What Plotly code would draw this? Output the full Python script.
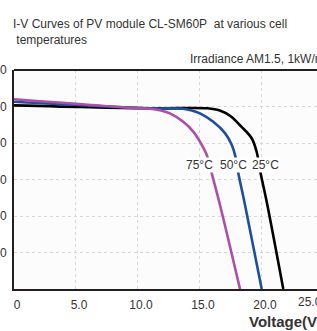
import plotly.graph_objects as go

# ---- data ----
v_25 = [0, 10.97, 15.6, 16.6, 17.45, 18.3, 19.17, 19.57, 19.88, 20.43, 21.72]
i_25 = [5.03, 4.95, 4.95, 4.89, 4.74, 4.46, 4.13, 3.76, 3.19, 2.31, 0]

v_50 = [0, 10.97, 13.63, 14.35, 15.0, 16.07, 17.02, 17.56, 17.82, 18.09, 18.63, 19.98]
i_50 = [5.13, 4.95, 4.94, 4.89, 4.81, 4.58, 4.27, 3.95, 3.68, 3.18, 2.31, 0]

v_75 = [0, 10.16, 10.97, 11.77, 12.58, 13.65, 14.46, 15.14, 15.54, 15.94, 16.61, 18.23]
i_75 = [5.20, 4.95, 4.94, 4.90, 4.81, 4.58, 4.31, 3.95, 3.68, 3.18, 2.31, 0]

temp_labels = ["75°C", "50°C", "25°C"]
temp_label_v = [15.0, 17.74, 20.28]
temp_label_i = 3.40

x_tickvals = [0, 5, 10, 15, 20]
x_ticktext = ["0", "5.0", "10.0", "15.0", "20.0"]
y_tickvals = [1, 2, 3, 4, 5, 6]
y_ticktext = ["1.0", "2.0", "3.0", "4.0", "5.0", "6.0"]

FONT = "Liberation Sans, Arial, sans-serif"
TXT = "#333333"

fig = go.Figure()
for v, i, c in [(v_25, i_25, "#000000"), (v_50, i_50, "#1f4e9f"), (v_75, i_75, "#ad4fa8")]:
    fig.add_trace(go.Scatter(x=v, y=i, mode="lines",
                             line=dict(color=c, width=2.6, shape="spline", smoothing=1.0),
                             showlegend=False, hoverinfo="skip"))

for t, v in zip(temp_labels, temp_label_v):
    fig.add_annotation(x=v, y=temp_label_i, xref="x", yref="y", text=t, showarrow=False,
                       font=dict(family=FONT, size=12, color=TXT), bgcolor="#ffffff", borderpad=0)

fig.add_shape(type="line", xref="paper", yref="paper", x0=0, x1=1, y0=1, y1=1,
              line=dict(color="#231f20", width=2))

fig.add_annotation(xref="paper", yref="paper", x=0.575, y=1.048, xanchor="left", yanchor="middle",
                   text="Irradiance AM1.5, 1kW/m²", showarrow=False,
                   font=dict(family=FONT, size=12, color=TXT))
fig.add_annotation(xref="paper", yref="paper", x=0.768, y=-0.147, xanchor="left", yanchor="middle",
                   text="<b>Voltage(V)</b>", showarrow=False,
                   font=dict(family=FONT, size=15, color=TXT))
fig.add_annotation(xref="paper", yref="paper", x=0.977, y=-0.058, xanchor="center", yanchor="middle",
                   text="25.0", showarrow=False, font=dict(family=FONT, size=12, color=TXT))
fig.add_annotation(xref="paper", yref="paper", x=-0.0086, y=1.25, xanchor="left", yanchor="top",
                   align="left",
                   text="I-V Curves of PV module CL-SM60P\u00a0\u00a0at various cell<br>\u00a0temperatures",
                   showarrow=False, font=dict(family=FONT, size=12, color=TXT))

fig.update_layout(
    width=317, height=331,
    margin=dict(l=14, r=0, t=70, b=42, autoexpand=False),
    paper_bgcolor="#ffffff", plot_bgcolor="#fcfcfc",
    font=dict(family=FONT, size=12, color=TXT),
)
fig.update_xaxes(range=[0, 24.44], tickvals=x_tickvals, ticktext=x_ticktext, automargin=False,
                 showline=True, linecolor="#231f20", linewidth=2,
                 showgrid=True, gridcolor="#d8d8d8", griddash="dot", gridwidth=1,
                 zeroline=False, ticks="", ticklabelstandoff=4, ticklabelshift=3,
                 tickfont=dict(family=FONT, size=12, color=TXT))
fig.update_yaxes(range=[0, 6], tickvals=y_tickvals, ticktext=y_ticktext, automargin=False,
                 showline=True, linecolor="#231f20", linewidth=2,
                 showgrid=True, gridcolor="#d8d8d8", griddash="dot", gridwidth=1,
                 zeroline=False, ticks="", ticklabelstandoff=3,
                 tickfont=dict(family=FONT, size=12, color=TXT))

fig.write_html("out.html", config={"displayModeBar": False},
               post_script="document.body.style.margin='0';document.body.style.overflow='hidden';")
